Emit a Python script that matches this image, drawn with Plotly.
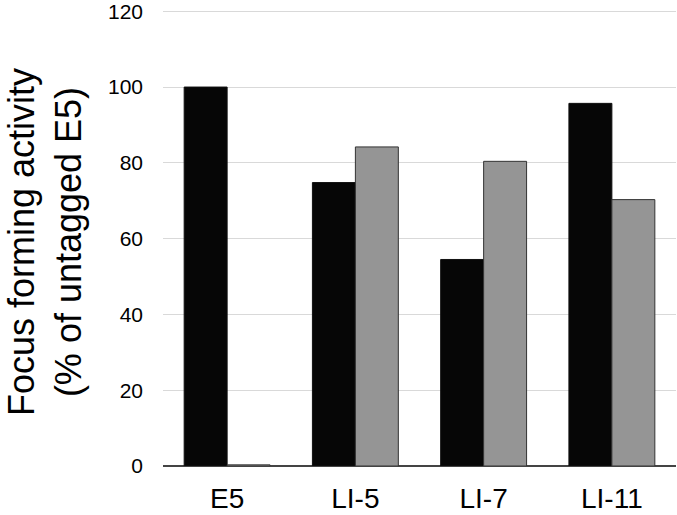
import plotly.graph_objects as go

categories = ["E5", "LI-5", "LI-7", "LI-11"]
untagged = [100, 74.8, 54.5, 95.7]
tagged = [0.3, 84.2, 80.4, 70.3]
y_ticks = [0, 20, 40, 60, 80, 100, 120]

W, H = 677, 515
L, R, T, B = 163, 1, 9, 49

fig = go.Figure()
fig.add_trace(go.Bar(x=categories, y=untagged, name="untagged",
                     marker=dict(color="#060606", line=dict(color="#111111", width=1))))
fig.add_trace(go.Bar(x=categories, y=tagged, name="tagged",
                     marker=dict(color="#959595", line=dict(color="#333333", width=1))))

fig.update_layout(
    width=W, height=H,
    margin=dict(l=L, r=R, t=T, b=B, autoexpand=False),
    barmode="group", bargap=0.33, bargroupgap=0,
    plot_bgcolor="white", paper_bgcolor="white",
    showlegend=False,
    font=dict(family="Liberation Sans, Arial, sans-serif", color="black"),
)
fig.update_xaxes(showgrid=False, showline=False, ticks="", automargin=False,
                 tickfont=dict(size=28), ticklabelstandoff=13)
fig.update_yaxes(range=[0, 120.6], tickvals=y_ticks, showgrid=True, gridcolor="#d9d9d9",
                 gridwidth=1, zeroline=True, zerolinecolor="#444444", zerolinewidth=1.5,
                 showline=False, ticks="", automargin=False, ticklabeloverflow="allow",
                 tickfont=dict(size=21), ticklabelstandoff=19)

pw = W - L - R
fig.add_annotation(xref="paper", yref="paper", x=-L / pw, y=0.49,
                   xanchor="left", yanchor="middle", textangle=-90, showarrow=False,
                   borderpad=0,
                   text="Focus forming activity<br>(% of untagged E5)",
                   font=dict(size=36, color="black"))

fig.write_html("out.html", config={"displayModeBar": False},
               post_script="document.body.style.margin='0';document.body.style.overflow='hidden';")
